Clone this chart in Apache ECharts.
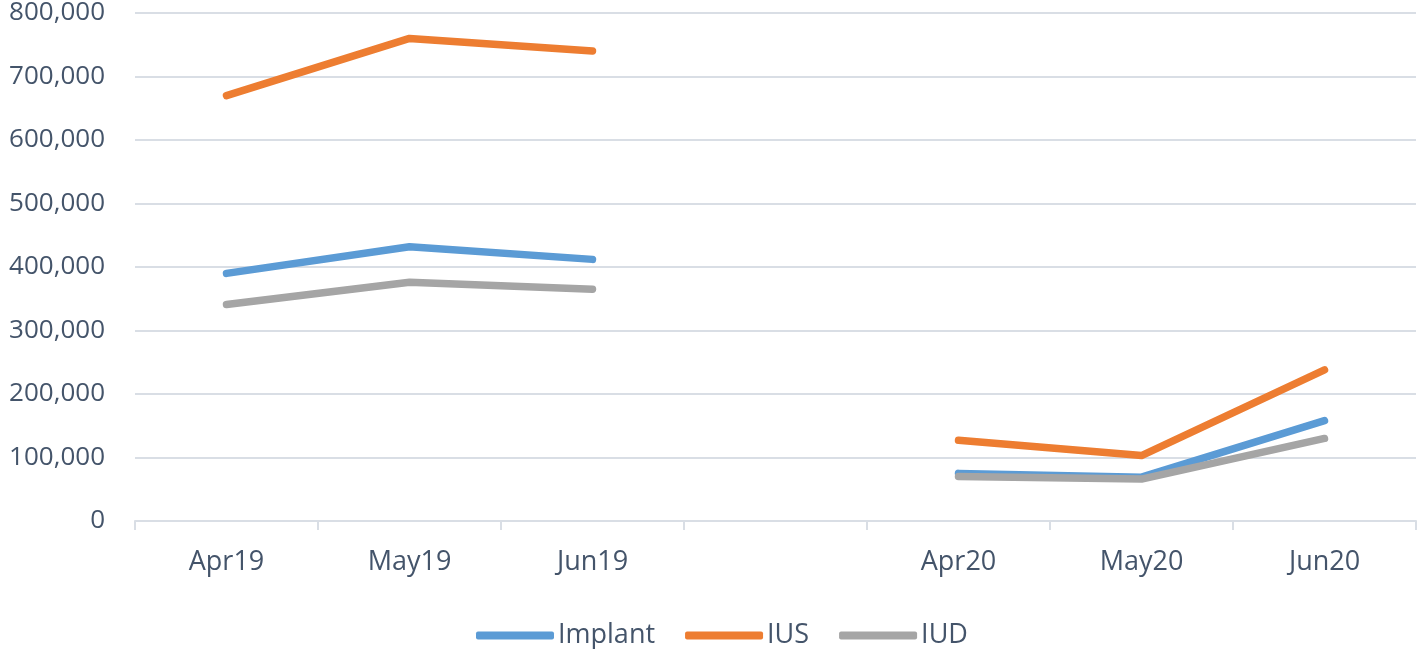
<!DOCTYPE html>
<html>
<head>
<meta charset="utf-8">
<script src="https://cdn.jsdelivr.net/npm/echarts@6/dist/echarts.min.js"></script>
<style>html,body{margin:0;padding:0;background:#fff}#c{width:1419px;height:649px}</style>
</head>
<body>
<div id="c"></div>
<script>
const categories = ['Apr19', 'May19', 'Jun19', '', 'Apr20', 'May20', 'Jun20'];
const implant = [390000, 432000, 412000, null, 75000, 69000, 158000];
const ius = [670000, 760000, 740000, null, 127000, 103000, 238000];
const iud = [341000, 376000, 365000, null, 70000, 66000, 130000];
const seriesNames = ['Implant', 'IUS', 'IUD'];
const colors = ['#5B9BD5', '#ED7D31', '#A5A5A5'];

const textColor = '#44546A';
const font = 'Open Sans';
const chart = echarts.init(document.getElementById('c'));
const mk = (name, data, color) => ({
  name, type: 'line', data, showSymbol: false, symbol: 'none',
  connectNulls: false,
  lineStyle: { color, width: 7.5, cap: 'round', join: 'round' },
  itemStyle: { color },
  animation: false
});
chart.setOption({
  animation: false,
  color: colors,
  grid: { left: 135, right: 3, top: 10, bottom: 128, containLabel: false },
  xAxis: {
    type: 'category', data: categories, boundaryGap: true,
    axisLine: { show: true, lineStyle: { color: '#D9DEE5', width: 2 } },
    axisTick: { show: true, length: 9, lineStyle: { color: '#D9DEE5', width: 2 }, interval: 0 },
    axisLabel: { color: textColor, fontFamily: font, fontSize: 27, margin: 28, interval: 0 }
  },
  yAxis: {
    type: 'value', min: 0, max: 800000, interval: 100000,
    axisLine: { show: false }, axisTick: { show: false },
    splitLine: { lineStyle: { color: '#D9DEE5', width: 2 } },
    axisLabel: { color: textColor, fontFamily: font, fontSize: 26, margin: 30,
      formatter: v => v.toLocaleString('en-US') }
  },
  legend: {
    top: 617, left: 471, itemWidth: 78, itemHeight: 8, itemGap: 30,
    icon: 'roundRect',
    textStyle: { color: textColor, fontFamily: font, fontSize: 27, padding: [0, 0, 0, -1] },
    data: seriesNames
  },
  series: [mk(seriesNames[0], implant, colors[0]), mk(seriesNames[1], ius, colors[1]), mk(seriesNames[2], iud, colors[2])]
});
</script>
</body>
</html>
